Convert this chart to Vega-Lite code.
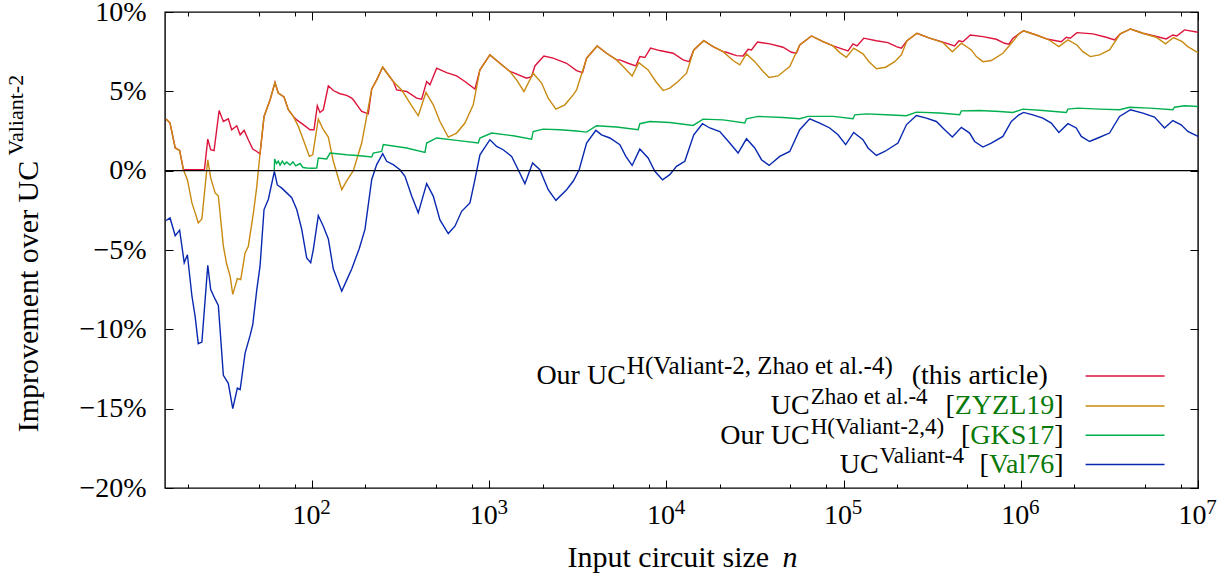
{
  "$schema": "https://vega.github.io/schema/vega-lite/v6.json",
  "width": 1033,
  "height": 476,
  "autosize": {"type": "none"},
  "padding": {"left": 165, "top": 12, "right": 32, "bottom": 91},
  "background": "white",
  "config": {
    "view": {"stroke": "black", "strokeWidth": 1.4},
    "font": "Liberation Serif, DejaVu Serif, serif",
    "text": {"font": "Liberation Serif, DejaVu Serif, serif"},
    "axis": {"labelFont": "Liberation Serif, DejaVu Serif, serif", "titleFont": "Liberation Serif, DejaVu Serif, serif", "labelColor": "black", "titleColor": "black", "tickColor": "black", "tickWidth": 1, "titleFontWeight": "normal", "domain": false, "grid": false, "labelFlush": false, "labelOverlap": false, "labelBound": false}
  },
  "datasets": {
    "hyb": [
      {"n":15.0,"v":3.25},{"n":15.8,"v":3.0},{"n":16.9,"v":1.43},{"n":17.9,"v":1.28},{"n":18.8,"v":0.06},{"n":24.7,"v":0.06},{"n":25.8,"v":1.99},{"n":26.8,"v":1.32},{"n":28.0,"v":1.26},{"n":29.9,"v":3.79},{"n":31.6,"v":3.1},{"n":33.7,"v":3.27},{"n":35.2,"v":2.58},{"n":37.6,"v":2.83},{"n":39.3,"v":2.26},{"n":41.4,"v":2.54},{"n":43.7,"v":1.95},{"n":46.3,"v":1.36},{"n":48.8,"v":1.21},{"n":50.9,"v":1.05},{"n":53.6,"v":3.42},{"n":58.0,"v":4.47},{"n":61.8,"v":5.56},{"n":64.5,"v":4.89},{"n":69.5,"v":4.64},{"n":73.5,"v":3.84},{"n":78.4,"v":3.42},{"n":82.0,"v":3.2},{"n":89.3,"v":2.9},{"n":97.4,"v":2.58},{"n":102.6,"v":2.58},{"n":107.1,"v":4.09},{"n":110.9,"v":3.67},{"n":115.8,"v":3.84},{"n":123.6,"v":5.35},{"n":131.9,"v":5.05},{"n":143.9,"v":4.85},{"n":156.9,"v":4.75},{"n":167.5,"v":4.57},{"n":171.0,"v":4.47},{"n":184.8,"v":3.94},{"n":190.7,"v":3.73},{"n":207.7,"v":3.58},{"n":217.1,"v":5.14},{"n":231.7,"v":5.72},{"n":250.5,"v":6.52},{"n":287.4,"v":5.62},{"n":300.4,"v":5.09},{"n":342.0,"v":4.99},{"n":389.5,"v":4.57},{"n":415.6,"v":4.51},{"n":443.6,"v":5.62},{"n":463.0,"v":5.41},{"n":505.0,"v":6.46},{"n":575.0,"v":6.18},{"n":654.8,"v":5.97},{"n":729.4,"v":5.62},{"n":830.5,"v":5.14},{"n":886.4,"v":6.35},{"n":1009,"v":7.3},{"n":1149,"v":6.77},{"n":1309,"v":6.25},{"n":1366,"v":6.18},{"n":1626,"v":5.83},{"n":1734,"v":5.93},{"n":1810,"v":6.6},{"n":2035,"v":7.23},{"n":2296,"v":7.09},{"n":2733,"v":6.77},{"n":3112,"v":6.31},{"n":3364,"v":6.18},{"n":3544,"v":7.09},{"n":4066,"v":7.86},{"n":4594,"v":7.4},{"n":5231,"v":6.98},{"n":5461,"v":6.98},{"n":6081,"v":6.77},{"n":6720,"v":6.6},{"n":7079,"v":7.19},{"n":7553,"v":7.13},{"n":8135,"v":7.72},{"n":9180,"v":7.57},{"n":10910,"v":7.4},{"n":12420,"v":6.98},{"n":13430,"v":6.87},{"n":14270,"v":7.61},{"n":16250,"v":8.19},{"n":18340,"v":7.82},{"n":20890,"v":7.5},{"n":21830,"v":7.46},{"n":24860,"v":7.25},{"n":27080,"v":7.23},{"n":28890,"v":7.65},{"n":30200,"v":7.61},{"n":32650,"v":8.11},{"n":38310,"v":7.99},{"n":45510,"v":7.78},{"n":50770,"v":7.46},{"n":54190,"v":7.4},{"n":56540,"v":7.92},{"n":65840,"v":8.49},{"n":76550,"v":8.13},{"n":87160,"v":7.86},{"n":95060,"v":7.72},{"n":105900,"v":7.55},{"n":113000,"v":7.99},{"n":119000,"v":7.86},{"n":129900,"v":8.35},{"n":153100,"v":8.19},{"n":178000,"v":8.07},{"n":198600,"v":7.82},{"n":211800,"v":7.72},{"n":227900,"v":8.19},{"n":259400,"v":8.66},{"n":305900,"v":8.35},{"n":356200,"v":8.13},{"n":423200,"v":7.86},{"n":447600,"v":8.19},{"n":471500,"v":8.13},{"n":519100,"v":8.55},{"n":611300,"v":8.45},{"n":727600,"v":8.28},{"n":810200,"v":8.03},{"n":856900,"v":7.97},{"n":902500,"v":8.35},{"n":975700,"v":8.62},{"n":1037000,"v":8.82},{"n":1223000,"v":8.55},{"n":1422000,"v":8.28},{"n":1692000,"v":8.13},{"n":1806000,"v":8.41},{"n":1902000,"v":8.35},{"n":2073000,"v":8.7},{"n":2551000,"v":8.62},{"n":3035000,"v":8.41},{"n":3381000,"v":8.24},{"n":3640000,"v":8.62},{"n":4162000,"v":8.93},{"n":4884000,"v":8.66},{"n":5684000,"v":8.49},{"n":6616000,"v":8.3},{"n":7209000,"v":8.55},{"n":7594000,"v":8.49},{"n":8392000,"v":8.87},{"n":10000000,"v":8.72}
    ],
    "zhao": [
      {"n":15.0,"v":3.25},{"n":15.8,"v":3.0},{"n":16.9,"v":1.43},{"n":17.9,"v":1.28},{"n":18.8,"v":0.06},{"n":19.8,"v":-0.57},{"n":21.0,"v":-2.03},{"n":21.9,"v":-2.66},{"n":22.8,"v":-3.29},{"n":23.9,"v":-3.04},{"n":25.8,"v":0.69},{"n":26.8,"v":-0.46},{"n":28.4,"v":-1.4},{"n":29.6,"v":-1.6},{"n":31.6,"v":-4.76},{"n":33.0,"v":-5.9},{"n":34.5,"v":-6.65},{"n":35.7,"v":-7.8},{"n":37.9,"v":-6.8},{"n":39.6,"v":-6.86},{"n":41.9,"v":-5.18},{"n":43.7,"v":-4.76},{"n":46.7,"v":-2.66},{"n":48.8,"v":-0.99},{"n":50.9,"v":1.11},{"n":53.6,"v":3.42},{"n":58.0,"v":4.47},{"n":61.8,"v":5.56},{"n":64.5,"v":4.89},{"n":69.5,"v":4.64},{"n":73.5,"v":3.84},{"n":78.4,"v":3.42},{"n":83.7,"v":2.79},{"n":89.3,"v":1.95},{"n":96.6,"v":0.9},{"n":100.9,"v":1.0},{"n":108.5,"v":3.25},{"n":115.8,"v":2.58},{"n":123.6,"v":2.12},{"n":131.9,"v":0.59},{"n":147.1,"v":-1.2},{"n":156.9,"v":-0.64},{"n":171.0,"v":0.0},{"n":190.7,"v":1.74},{"n":203.5,"v":3.42},{"n":217.1,"v":5.14},{"n":231.7,"v":5.72},{"n":250.5,"v":6.52},{"n":287.4,"v":5.62},{"n":320.5,"v":5.09},{"n":357.0,"v":4.26},{"n":397.7,"v":3.46},{"n":439.5,"v":4.93},{"n":483.3,"v":4.15},{"n":527.1,"v":3.1},{"n":587.2,"v":2.12},{"n":654.8,"v":2.37},{"n":729.4,"v":3.0},{"n":812.4,"v":4.15},{"n":886.4,"v":6.35},{"n":1009,"v":7.3},{"n":1149,"v":6.77},{"n":1309,"v":6.25},{"n":1427,"v":5.72},{"n":1570,"v":4.99},{"n":1771,"v":6.14},{"n":1975,"v":5.52},{"n":2152,"v":4.57},{"n":2378,"v":3.88},{"n":2673,"v":4.15},{"n":2977,"v":4.78},{"n":3112,"v":5.09},{"n":3544,"v":7.09},{"n":4066,"v":7.86},{"n":4594,"v":7.4},{"n":5231,"v":6.98},{"n":5698,"v":6.56},{"n":6405,"v":5.97},{"n":6987,"v":6.81},{"n":7884,"v":6.35},{"n":8714,"v":5.62},{"n":9581,"v":5.05},{"n":10450,"v":5.2},{"n":11640,"v":5.62},{"n":12990,"v":6.14},{"n":14270,"v":7.61},{"n":16250,"v":8.19},{"n":18340,"v":7.82},{"n":20890,"v":7.5},{"n":23780,"v":6.94},{"n":25940,"v":6.67},{"n":28300,"v":7.36},{"n":31520,"v":6.87},{"n":35120,"v":6.25},{"n":37960,"v":5.87},{"n":42660,"v":5.97},{"n":49660,"v":6.56},{"n":56540,"v":7.92},{"n":65840,"v":8.49},{"n":76550,"v":8.13},{"n":87160,"v":7.86},{"n":95060,"v":7.44},{"n":103700,"v":7.15},{"n":114000,"v":7.72},{"n":128600,"v":7.36},{"n":139100,"v":6.87},{"n":153100,"v":6.42},{"n":172800,"v":6.52},{"n":194200,"v":6.87},{"n":211800,"v":7.3},{"n":227900,"v":8.19},{"n":259400,"v":8.66},{"n":305900,"v":8.35},{"n":363700,"v":8.07},{"n":410900,"v":7.5},{"n":461800,"v":8.03},{"n":525800,"v":7.61},{"n":561000,"v":7.19},{"n":611300,"v":6.87},{"n":681700,"v":6.94},{"n":792500,"v":7.4},{"n":884100,"v":8.03},{"n":975700,"v":8.62},{"n":1037000,"v":8.82},{"n":1223000,"v":8.55},{"n":1422000,"v":8.28},{"n":1640000,"v":7.82},{"n":1844000,"v":8.24},{"n":2073000,"v":7.92},{"n":2240000,"v":7.5},{"n":2466000,"v":7.19},{"n":2783000,"v":7.3},{"n":3168000,"v":7.61},{"n":3640000,"v":8.62},{"n":4162000,"v":8.93},{"n":4884000,"v":8.66},{"n":5811000,"v":8.41},{"n":6557000,"v":7.99},{"n":7275000,"v":8.39},{"n":8144000,"v":8.13},{"n":8759000,"v":7.82},{"n":10000000,"v":7.44}
    ],
    "gks": [
      {"n":61.2,"v":0.0},{"n":61.5,"v":0.74},{"n":63,"v":0.45},{"n":64.5,"v":0.6},{"n":66,"v":0.35},{"n":68,"v":0.6},{"n":70,"v":0.4},{"n":72,"v":0.55},{"n":75.1,"v":0.35},{"n":78,"v":0.55},{"n":81,"v":0.3},{"n":85.6,"v":0.45},{"n":89,"v":0.2},{"n":93.3,"v":0.17},{"n":100,"v":0.15},{"n":106.3,"v":0.17},{"n":108.5,"v":0.8},{"n":121.0,"v":0.74},{"n":126.4,"v":1.11},{"n":156.9,"v":1.0},{"n":186.6,"v":0.94},{"n":217.1,"v":0.86},{"n":221.7,"v":1.11},{"n":247.2,"v":1.21},{"n":252.4,"v":1.64},{"n":342.0,"v":1.43},{"n":433.9,"v":1.15},{"n":443.6,"v":1.74},{"n":505.0,"v":2.06},{"n":654.8,"v":1.91},{"n":867.0,"v":1.74},{"n":886.4,"v":2.06},{"n":1032,"v":2.37},{"n":1366,"v":2.2},{"n":1734,"v":1.99},{"n":1771,"v":2.47},{"n":2017,"v":2.62},{"n":2505,"v":2.58},{"n":3112,"v":2.5},{"n":3544,"v":2.43},{"n":4035,"v":2.83},{"n":5231,"v":2.75},{"n":6925,"v":2.58},{"n":7079,"v":2.96},{"n":8060,"v":3.1},{"n":10450,"v":3.04},{"n":14150,"v":2.85},{"n":16110,"v":3.25},{"n":20890,"v":3.2},{"n":27690,"v":3.0},{"n":28300,"v":3.27},{"n":32910,"v":3.42},{"n":45510,"v":3.35},{"n":56540,"v":3.27},{"n":62990,"v":3.42},{"n":87160,"v":3.42},{"n":113000,"v":3.27},{"n":115500,"v":3.52},{"n":134500,"v":3.58},{"n":174400,"v":3.52},{"n":226100,"v":3.46},{"n":257400,"v":3.69},{"n":348300,"v":3.63},{"n":451600,"v":3.52},{"n":461800,"v":3.77},{"n":585600,"v":3.79},{"n":759400,"v":3.73},{"n":902500,"v":3.67},{"n":1027000,"v":3.88},{"n":1332000,"v":3.79},{"n":1806000,"v":3.67},{"n":1844000,"v":3.88},{"n":2100000,"v":3.94},{"n":2783000,"v":3.88},{"n":3607000,"v":3.84},{"n":4109000,"v":4.0},{"n":5327000,"v":3.94},{"n":7209000,"v":3.84},{"n":7370000,"v":4.0},{"n":8392000,"v":4.09},{"n":10000000,"v":4.04}
    ],
    "val4": [
      {"n":15.0,"v":-3.14},{"n":15.8,"v":-2.98},{"n":16.9,"v":-4.1},{"n":17.9,"v":-3.75},{"n":19.0,"v":-5.8},{"n":19.8,"v":-5.3},{"n":21.0,"v":-7.9},{"n":21.9,"v":-9.2},{"n":22.8,"v":-10.9},{"n":23.9,"v":-10.8},{"n":25.8,"v":-5.96},{"n":26.8,"v":-7.5},{"n":28.4,"v":-8.1},{"n":29.6,"v":-8.5},{"n":31.6,"v":-12.9},{"n":33.7,"v":-13.4},{"n":35.7,"v":-15.0},{"n":37.9,"v":-13.7},{"n":39.3,"v":-13.8},{"n":41.9,"v":-11.5},{"n":44.7,"v":-10.4},{"n":46.3,"v":-9.7},{"n":48.8,"v":-7.5},{"n":50.9,"v":-6.0},{"n":53.6,"v":-2.45},{"n":56.7,"v":-1.8},{"n":61.3,"v":-0.04},{"n":63.7,"v":-0.9},{"n":67.5,"v":-1.1},{"n":72.0,"v":-1.4},{"n":76.8,"v":-1.7},{"n":82.0,"v":-2.45},{"n":87.5,"v":-3.7},{"n":93.3,"v":-5.5},{"n":98.3,"v":-5.8},{"n":101.7,"v":-4.97},{"n":108.5,"v":-2.83},{"n":115.8,"v":-3.5},{"n":123.6,"v":-4.3},{"n":131.9,"v":-6.2},{"n":147.1,"v":-7.6},{"n":156.9,"v":-6.9},{"n":167.5,"v":-6.2},{"n":184.8,"v":-4.9},{"n":199.0,"v":-3.7},{"n":217.1,"v":-0.57},{"n":231.7,"v":0.38},{"n":250.5,"v":1.07},{"n":263.8,"v":0.59},{"n":287.4,"v":0.38},{"n":313.5,"v":0.06},{"n":334.6,"v":-0.36},{"n":365.1,"v":-1.6},{"n":397.7,"v":-2.66},{"n":443.6,"v":-0.82},{"n":483.3,"v":-1.6},{"n":527.1,"v":-3.1},{"n":587.2,"v":-3.96},{"n":640.5,"v":-3.5},{"n":698.8,"v":-2.56},{"n":778.4,"v":-2.03},{"n":830.5,"v":-0.57},{"n":886.4,"v":1.0},{"n":1009,"v":1.95},{"n":1101,"v":1.53},{"n":1199,"v":1.32},{"n":1338,"v":0.9},{"n":1457,"v":0.06},{"n":1590,"v":-0.82},{"n":1757,"v":0.48},{"n":1932,"v":0.06},{"n":2152,"v":-1.2},{"n":2378,"v":-1.87},{"n":2733,"v":-1.2},{"n":2977,"v":-0.67},{"n":3218,"v":0.06},{"n":3544,"v":1.74},{"n":3999,"v":2.54},{"n":4304,"v":2.26},{"n":4796,"v":2.06},{"n":5461,"v":1.64},{"n":5902,"v":0.9},{"n":6405,"v":0.33},{"n":7079,"v":1.36},{"n":7884,"v":0.8},{"n":8602,"v":-0.04},{"n":9506,"v":-0.57},{"n":10450,"v":-0.25},{"n":11400,"v":0.27},{"n":12700,"v":0.59},{"n":14270,"v":2.26},{"n":15980,"v":2.96},{"n":17580,"v":2.69},{"n":20010,"v":2.47},{"n":22780,"v":1.74},{"n":25380,"v":1.11},{"n":28300,"v":2.01},{"n":31520,"v":1.43},{"n":34400,"v":0.69},{"n":37960,"v":0.33},{"n":43610,"v":0.9},{"n":49660,"v":1.21},{"n":56540,"v":2.58},{"n":64400,"v":3.27},{"n":73330,"v":3.0},{"n":83480,"v":2.69},{"n":92980,"v":2.26},{"n":102700,"v":1.64},{"n":114000,"v":2.41},{"n":128600,"v":1.95},{"n":137300,"v":1.43},{"n":153100,"v":0.96},{"n":170600,"v":1.21},{"n":202700,"v":1.74},{"n":226100,"v":2.89},{"n":257400,"v":3.48},{"n":293100,"v":3.31},{"n":333700,"v":3.1},{"n":371700,"v":2.58},{"n":410900,"v":2.12},{"n":461800,"v":2.73},{"n":514300,"v":2.37},{"n":548900,"v":1.84},{"n":611300,"v":1.49},{"n":681700,"v":1.74},{"n":792500,"v":2.16},{"n":884100,"v":3.1},{"n":975700,"v":3.52},{"n":1037000,"v":3.67},{"n":1170000,"v":3.52},{"n":1332000,"v":3.31},{"n":1486000,"v":3.0},{"n":1640000,"v":2.41},{"n":1844000,"v":2.96},{"n":2056000,"v":2.69},{"n":2194000,"v":2.16},{"n":2443000,"v":1.84},{"n":2722000,"v":2.06},{"n":3168000,"v":2.37},{"n":3607000,"v":3.42},{"n":4162000,"v":3.84},{"n":4884000,"v":3.63},{"n":5684000,"v":3.38},{"n":6472000,"v":2.69},{"n":7209000,"v":3.16},{"n":8038000,"v":2.89},{"n":8759000,"v":2.47},{"n":10000000,"v":2.16}
    ],
    "zero": [{"n":14.8,"v":0},{"n":10000000,"v":0}],
    "one": [{"k":1}]
  },
  "layer": [
    {
      "data": {"name": "hyb"},
      "mark": {"type": "line", "color": "#dc143c", "strokeWidth": 1.4},
      "encoding": {
        "x": {"field": "n", "type": "quantitative", "scale": {"type": "log", "domain": [14.8, 10000000], "nice": false},
          "axis": {"orient": "bottom",
            "values": [20,50,80,100,200,500,800,1000,2000,5000,8000,10000,20000,50000,80000,100000,200000,500000,800000,1000000,2000000,5000000,8000000,10000000],
            "labelExpr": "abs(log(datum.value)/LN10 - round(log(datum.value)/LN10)) < 0.001 ? '10' : ''",
            "tickSize": {"condition": {"test": "abs(log(datum.value)/LN10 - round(log(datum.value)/LN10)) < 0.001", "value": -8}, "value": -4},
            "labelFontSize": 28, "labelBaseline": "alphabetic", "labelAlign": "center", "labelOffset": -6, "labelPadding": 43,
            "title": "Input circuit size", "titleFontSize": 30, "titleX": 402, "titleY": 78, "titleAlign": "left", "titleBaseline": "alphabetic", "titleAngle": 0}},
        "y": {"field": "v", "type": "quantitative", "scale": {"domain": [-20, 10], "nice": false, "zero": false},
          "axis": {"orient": "left", "values": [-20,-15,-10,-5,0,5,10],
            "labelExpr": "datum.value < 0 ? '−' + abs(datum.value) + '%' : datum.value + '%'",
            "tickSize": -8, "labelFontSize": 28, "labelPadding": 27, "labelBaseline": "middle", "labelAlign": "right",
            "title": "Improvement over UC", "titleFontSize": 30, "titleAngle": 270, "titleX": -128, "titleY": 284, "titleAlign": "center", "titleBaseline": "alphabetic"}}
      }
    },
    {
      "data": {"name": "zhao"},
      "mark": {"type": "line", "color": "#c88a10", "strokeWidth": 1.4},
      "encoding": {
        "x": {"field": "n", "type": "quantitative", "scale": {"type": "log", "domain": [14.8, 10000000], "nice": false}, "axis": null},
        "y": {"field": "v", "type": "quantitative", "scale": {"domain": [-20, 10], "nice": false, "zero": false}, "axis": null}
      }
    },
    {
      "data": {"name": "gks"},
      "mark": {"type": "line", "color": "#00b04f", "strokeWidth": 1.4},
      "encoding": {
        "x": {"field": "n", "type": "quantitative", "scale": {"type": "log", "domain": [14.8, 10000000], "nice": false}, "axis": null},
        "y": {"field": "v", "type": "quantitative", "scale": {"domain": [-20, 10], "nice": false, "zero": false}, "axis": null}
      }
    },
    {
      "data": {"name": "val4"},
      "mark": {"type": "line", "color": "#0828b0", "strokeWidth": 1.4},
      "encoding": {
        "x": {"field": "n", "type": "quantitative", "scale": {"type": "log", "domain": [14.8, 10000000], "nice": false}, "axis": null},
        "y": {"field": "v", "type": "quantitative", "scale": {"domain": [-20, 10], "nice": false, "zero": false}, "axis": null}
      }
    },
    {
      "data": {"name": "zero"},
      "mark": {"type": "line", "color": "black", "strokeWidth": 1.2},
      "encoding": {
        "x": {"field": "n", "type": "quantitative", "scale": {"type": "log", "domain": [14.8, 10000000], "nice": false},
          "axis": {"orient": "top", "labels": false, "title": null,
            "values": [20,50,80,100,200,500,800,1000,2000,5000,8000,10000,20000,50000,80000,100000,200000,500000,800000,1000000,2000000,5000000,8000000,10000000],
            "tickSize": {"condition": {"test": "abs(log(datum.value)/LN10 - round(log(datum.value)/LN10)) < 0.001", "value": -8}, "value": -4}}},
        "y": {"field": "v", "type": "quantitative", "scale": {"domain": [-20, 10], "nice": false, "zero": false},
          "axis": {"orient": "right", "labels": false, "title": null, "values": [-20,-15,-10,-5,0,5,10], "tickSize": -8}}
      }
    },
    {
      "data": {"name": "zero"},
      "mark": {"type": "line", "opacity": 0},
      "encoding": {
        "x": {"field": "n", "type": "quantitative", "scale": {"type": "log", "domain": [14.8, 10000000], "nice": false},
          "axis": {"orient": "bottom", "values": [100,1000,10000,100000,1000000,10000000],
            "labelExpr": "'' + round(log(datum.value)/LN10)",
            "tickSize": -8, "tickOpacity": 0, "labelFontSize": 21, "labelBaseline": "alphabetic", "labelAlign": "center", "labelOffset": 13, "labelPadding": 33,
            "title": "n", "titleFontStyle": "italic", "titleFontSize": 30, "titleX": 617, "titleY": 78, "titleAlign": "left", "titleBaseline": "alphabetic", "titleAngle": 0}},
        "y": {"field": "v", "type": "quantitative", "scale": {"domain": [-20, 10], "nice": false, "zero": false},
          "axis": {"orient": "left", "labels": false, "ticks": false, "title": "Valiant-2", "titleFontSize": 22, "titleAngle": 270, "titleX": -143, "titleY": 143, "titleAlign": "left", "titleBaseline": "alphabetic"}}
      }
    },
    {"data": {"name": "one"}, "mark": {"type": "rule", "color": "#dc143c", "strokeWidth": 1.4}, "encoding": {"x": {"datum": 2320000, "type": "quantitative", "scale": {"type": "log", "domain": [14.8, 10000000], "nice": false}, "axis": null}, "x2": {"datum": 6474000}, "y": {"datum": -12.94, "type": "quantitative", "scale": {"domain": [-20, 10], "nice": false, "zero": false}, "axis": null}}},
    {"data": {"name": "one"}, "mark": {"type": "rule", "color": "#c88a10", "strokeWidth": 1.4}, "encoding": {"x": {"datum": 2320000, "type": "quantitative", "scale": {"type": "log", "domain": [14.8, 10000000], "nice": false}, "axis": null}, "x2": {"datum": 6474000}, "y": {"datum": -14.83, "type": "quantitative", "scale": {"domain": [-20, 10], "nice": false, "zero": false}, "axis": null}}},
    {"data": {"name": "one"}, "mark": {"type": "rule", "color": "#00b04f", "strokeWidth": 1.4}, "encoding": {"x": {"datum": 2320000, "type": "quantitative", "scale": {"type": "log", "domain": [14.8, 10000000], "nice": false}, "axis": null}, "x2": {"datum": 6474000}, "y": {"datum": -16.68, "type": "quantitative", "scale": {"domain": [-20, 10], "nice": false, "zero": false}, "axis": null}}},
    {"data": {"name": "one"}, "mark": {"type": "rule", "color": "#0828b0", "strokeWidth": 1.4}, "encoding": {"x": {"datum": 2320000, "type": "quantitative", "scale": {"type": "log", "domain": [14.8, 10000000], "nice": false}, "axis": null}, "x2": {"datum": 6474000}, "y": {"datum": -18.52, "type": "quantitative", "scale": {"domain": [-20, 10], "nice": false, "zero": false}, "axis": null}}},

    {"data": {"name": "one"}, "mark": {"type": "text", "text": "Our UC", "align": "right", "baseline": "alphabetic", "dy": 8.5, "fontSize": 28, "color": "black"}, "encoding": {"x": {"datum": 5902, "type": "quantitative", "scale": {"type": "log", "domain": [14.8, 10000000], "nice": false}, "axis": null}, "y": {"datum": -12.94, "type": "quantitative", "scale": {"domain": [-20, 10], "nice": false, "zero": false}, "axis": null}}},
    {"data": {"name": "one"}, "mark": {"type": "text", "text": "H(Valiant-2, Zhao et al.-4)", "align": "left", "baseline": "alphabetic", "dy": -1.5, "fontSize": 25, "color": "black"}, "encoding": {"x": {"datum": 5979, "type": "quantitative", "scale": {"type": "log", "domain": [14.8, 10000000], "nice": false}, "axis": null}, "y": {"datum": -12.94, "type": "quantitative", "scale": {"domain": [-20, 10], "nice": false, "zero": false}, "axis": null}}},
    {"data": {"name": "one"}, "mark": {"type": "text", "text": "(this article)", "align": "left", "baseline": "alphabetic", "dy": 8.5, "fontSize": 28, "color": "black"}, "encoding": {"x": {"datum": 242200, "type": "quantitative", "scale": {"type": "log", "domain": [14.8, 10000000], "nice": false}, "axis": null}, "y": {"datum": -12.94, "type": "quantitative", "scale": {"domain": [-20, 10], "nice": false, "zero": false}, "axis": null}}},

    {"data": {"name": "one"}, "mark": {"type": "text", "text": "UC", "align": "right", "baseline": "alphabetic", "dy": 8.5, "fontSize": 28, "color": "black"}, "encoding": {"x": {"datum": 64400, "type": "quantitative", "scale": {"type": "log", "domain": [14.8, 10000000], "nice": false}, "axis": null}, "y": {"datum": -14.83, "type": "quantitative", "scale": {"domain": [-20, 10], "nice": false, "zero": false}, "axis": null}}},
    {"data": {"name": "one"}, "mark": {"type": "text", "text": "Zhao et al.-4", "align": "left", "baseline": "alphabetic", "dy": -1.5, "fontSize": 23, "color": "black"}, "encoding": {"x": {"datum": 65230, "type": "quantitative", "scale": {"type": "log", "domain": [14.8, 10000000], "nice": false}, "axis": null}, "y": {"datum": -14.83, "type": "quantitative", "scale": {"domain": [-20, 10], "nice": false, "zero": false}, "axis": null}}},
    {"data": {"name": "one"}, "mark": {"type": "text", "text": "[", "align": "right", "baseline": "alphabetic", "dy": 8.5, "fontSize": 28, "color": "black"}, "encoding": {"x": {"datum": 424400, "type": "quantitative", "scale": {"type": "log", "domain": [14.8, 10000000], "nice": false}, "axis": null}, "y": {"datum": -14.83, "type": "quantitative", "scale": {"domain": [-20, 10], "nice": false, "zero": false}, "axis": null}}},
    {"data": {"name": "one"}, "mark": {"type": "text", "text": "ZYZL19", "align": "right", "baseline": "alphabetic", "dy": 8.5, "fontSize": 28, "color": "#0a7a0a"}, "encoding": {"x": {"datum": 1545000, "type": "quantitative", "scale": {"type": "log", "domain": [14.8, 10000000], "nice": false}, "axis": null}, "y": {"datum": -14.83, "type": "quantitative", "scale": {"domain": [-20, 10], "nice": false, "zero": false}, "axis": null}}},
    {"data": {"name": "one"}, "mark": {"type": "text", "text": "]", "align": "left", "baseline": "alphabetic", "dy": 8.5, "fontSize": 28, "color": "black"}, "encoding": {"x": {"datum": 1545000, "type": "quantitative", "scale": {"type": "log", "domain": [14.8, 10000000], "nice": false}, "axis": null}, "y": {"datum": -14.83, "type": "quantitative", "scale": {"domain": [-20, 10], "nice": false, "zero": false}, "axis": null}}},

    {"data": {"name": "one"}, "mark": {"type": "text", "text": "Our UC", "align": "right", "baseline": "alphabetic", "dy": 8.5, "fontSize": 28, "color": "black"}, "encoding": {"x": {"datum": 64400, "type": "quantitative", "scale": {"type": "log", "domain": [14.8, 10000000], "nice": false}, "axis": null}, "y": {"datum": -16.68, "type": "quantitative", "scale": {"domain": [-20, 10], "nice": false, "zero": false}, "axis": null}}},
    {"data": {"name": "one"}, "mark": {"type": "text", "text": "H(Valiant-2,4)", "align": "left", "baseline": "alphabetic", "dy": -1.5, "fontSize": 23, "color": "black"}, "encoding": {"x": {"datum": 65230, "type": "quantitative", "scale": {"type": "log", "domain": [14.8, 10000000], "nice": false}, "axis": null}, "y": {"datum": -16.68, "type": "quantitative", "scale": {"domain": [-20, 10], "nice": false, "zero": false}, "axis": null}}},
    {"data": {"name": "one"}, "mark": {"type": "text", "text": "[", "align": "right", "baseline": "alphabetic", "dy": 8.5, "fontSize": 28, "color": "black"}, "encoding": {"x": {"datum": 519100, "type": "quantitative", "scale": {"type": "log", "domain": [14.8, 10000000], "nice": false}, "axis": null}, "y": {"datum": -16.68, "type": "quantitative", "scale": {"domain": [-20, 10], "nice": false, "zero": false}, "axis": null}}},
    {"data": {"name": "one"}, "mark": {"type": "text", "text": "GKS17", "align": "right", "baseline": "alphabetic", "dy": 8.5, "fontSize": 28, "color": "#0a7a0a"}, "encoding": {"x": {"datum": 1545000, "type": "quantitative", "scale": {"type": "log", "domain": [14.8, 10000000], "nice": false}, "axis": null}, "y": {"datum": -16.68, "type": "quantitative", "scale": {"domain": [-20, 10], "nice": false, "zero": false}, "axis": null}}},
    {"data": {"name": "one"}, "mark": {"type": "text", "text": "]", "align": "left", "baseline": "alphabetic", "dy": 8.5, "fontSize": 28, "color": "black"}, "encoding": {"x": {"datum": 1545000, "type": "quantitative", "scale": {"type": "log", "domain": [14.8, 10000000], "nice": false}, "axis": null}, "y": {"datum": -16.68, "type": "quantitative", "scale": {"domain": [-20, 10], "nice": false, "zero": false}, "axis": null}}},

    {"data": {"name": "one"}, "mark": {"type": "text", "text": "UC", "align": "right", "baseline": "alphabetic", "dy": 8.5, "fontSize": 28, "color": "black"}, "encoding": {"x": {"datum": 157800, "type": "quantitative", "scale": {"type": "log", "domain": [14.8, 10000000], "nice": false}, "axis": null}, "y": {"datum": -18.52, "type": "quantitative", "scale": {"domain": [-20, 10], "nice": false, "zero": false}, "axis": null}}},
    {"data": {"name": "one"}, "mark": {"type": "text", "text": "Valiant-4", "align": "left", "baseline": "alphabetic", "dy": -1.5, "fontSize": 23, "color": "black"}, "encoding": {"x": {"datum": 159800, "type": "quantitative", "scale": {"type": "log", "domain": [14.8, 10000000], "nice": false}, "axis": null}, "y": {"datum": -18.52, "type": "quantitative", "scale": {"domain": [-20, 10], "nice": false, "zero": false}, "axis": null}}},
    {"data": {"name": "one"}, "mark": {"type": "text", "text": "[", "align": "right", "baseline": "alphabetic", "dy": 8.5, "fontSize": 28, "color": "black"}, "encoding": {"x": {"datum": 660700, "type": "quantitative", "scale": {"type": "log", "domain": [14.8, 10000000], "nice": false}, "axis": null}, "y": {"datum": -18.52, "type": "quantitative", "scale": {"domain": [-20, 10], "nice": false, "zero": false}, "axis": null}}},
    {"data": {"name": "one"}, "mark": {"type": "text", "text": "Val76", "align": "right", "baseline": "alphabetic", "dy": 8.5, "fontSize": 28, "color": "#0a7a0a"}, "encoding": {"x": {"datum": 1545000, "type": "quantitative", "scale": {"type": "log", "domain": [14.8, 10000000], "nice": false}, "axis": null}, "y": {"datum": -18.52, "type": "quantitative", "scale": {"domain": [-20, 10], "nice": false, "zero": false}, "axis": null}}},
    {"data": {"name": "one"}, "mark": {"type": "text", "text": "]", "align": "left", "baseline": "alphabetic", "dy": 8.5, "fontSize": 28, "color": "black"}, "encoding": {"x": {"datum": 1545000, "type": "quantitative", "scale": {"type": "log", "domain": [14.8, 10000000], "nice": false}, "axis": null}, "y": {"datum": -18.52, "type": "quantitative", "scale": {"domain": [-20, 10], "nice": false, "zero": false}, "axis": null}}}
  ],
  "resolve": {"axis": {"x": "independent", "y": "independent"}}
}
